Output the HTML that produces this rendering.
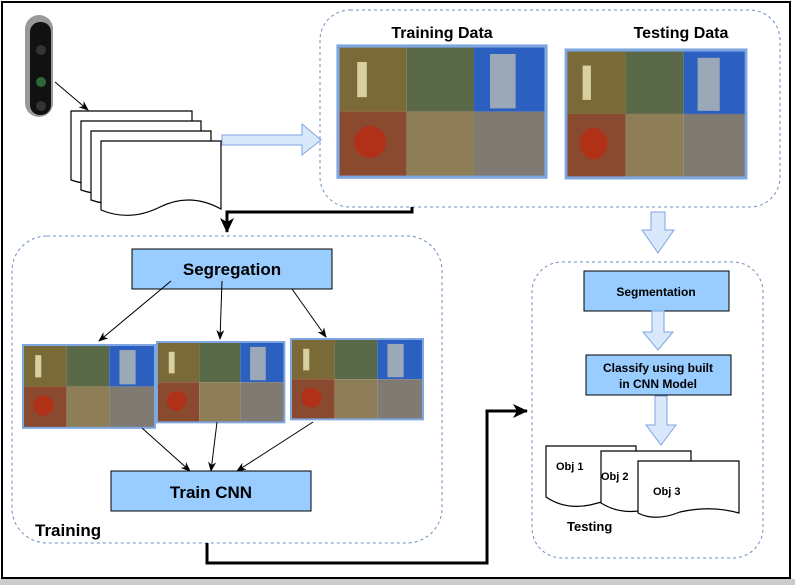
<!DOCTYPE html><html><head><style>body{margin:0;background:#fff}svg{display:block;font-family:"Liberation Sans",sans-serif;font-weight:bold}</style></head><body>
<svg width="795" height="585" viewBox="0 0 795 585" xmlns="http://www.w3.org/2000/svg">
<defs>
<marker id="a" markerWidth="10" markerHeight="10" refX="9" refY="5" orient="auto" markerUnits="userSpaceOnUse"><path d="M0,1 L10,5 L0,9 L3,5z" fill="#000"/></marker>
<marker id="b" markerWidth="16" markerHeight="16" refX="14" refY="8" orient="auto" markerUnits="userSpaceOnUse"><path d="M0,1 L15,8 L0,15 L4,8z" fill="#000"/></marker>
<g id="g">
<rect x="0" y="0" width="43" height="41" fill="#7a6a38"/><rect x="43" y="0" width="42" height="41" fill="#5a6a48"/><rect x="85" y="0" width="45" height="41" fill="#2b5fc0"/>
<rect x="0" y="41" width="43" height="41" fill="#8a4a30"/><rect x="43" y="41" width="42" height="41" fill="#8e7e58"/><rect x="85" y="41" width="45" height="41" fill="#7f7a72"/>
<rect x="12" y="10" width="6" height="22" fill="#d8d0a0"/><rect x="95" y="5" width="16" height="34" fill="#9aa8b8"/><circle cx="20" cy="60" r="10" fill="#b03018"/><rect x="0" y="0" width="130" height="82" fill="none" stroke="#7ea6e0" stroke-width="2"/>
</g>
</defs>
<rect x="2" y="2" width="788" height="576" fill="#fff" stroke="#000" stroke-width="2"/>
<rect x="0" y="579" width="795" height="6" fill="#ccc"/>
<!-- camera -->
<rect x="25" y="15" width="28" height="102" rx="14" fill="#999"/><rect x="30" y="22" width="21" height="93" rx="10" fill="#111"/>
<circle cx="41" cy="50" r="5" fill="#333"/><circle cx="41" cy="82" r="5" fill="#2a6a3a"/><circle cx="41" cy="106" r="5" fill="#333"/>
<line x1="55" y1="82" x2="88" y2="110" stroke="#000" marker-end="url(#a)"/>
<!-- docs -->
<g fill="#fff" stroke="#000" stroke-width="1.2">
<path d="M71,111 H192 V170 Q160,160 130,175 Q100,190 71,180Z"/>
<path d="M81,121 H201 V180 Q170,170 140,185 Q110,200 81,190Z"/>
<path d="M91,131 H211 V190 Q180,180 150,195 Q120,210 91,200Z"/>
<path d="M101,141 H221 V209 Q190,192 160,207 Q130,222 101,210Z"/>
</g>
<path d="M222,135 H302 V124 L321,140 L302,155 V145 H222Z" fill="#dae8fc" stroke="#7ea6e0"/>
<!-- top container -->
<rect x="320" y="10" width="460" height="197" rx="30" fill="none" stroke="#6c8ebf" stroke-dasharray="3,3"/>
<text x="442" y="38" font-size="16" text-anchor="middle">Training Data</text>
<text x="681" y="38" font-size="16" text-anchor="middle">Testing Data</text>
<g transform="translate(338,46) scale(1.6,1.6)"><use href="#g"/></g>
<g transform="translate(566,50) scale(1.385,1.56)"><use href="#g"/></g>
<path d="M412,207 V212 H227 V232" fill="none" stroke="#000" stroke-width="3" marker-end="url(#b)"/>
<path d="M651,212 H665 V230 H674 L658,253 L642,230 H651Z" fill="#dae8fc" stroke="#7ea6e0"/>
<!-- training container -->
<rect x="12" y="236" width="430" height="307" rx="35" fill="none" stroke="#6c8ebf" stroke-dasharray="3,3"/>
<rect x="132" y="249" width="200" height="40" fill="#99ccff" stroke="#000"/>
<text x="232" y="275" font-size="17" text-anchor="middle">Segregation</text>
<g transform="translate(23,345) scale(1.015,1.01)"><use href="#g"/></g>
<g transform="translate(157,342) scale(0.98,0.98)"><use href="#g"/></g>
<g transform="translate(291,339) scale(1.015,0.98)"><use href="#g"/></g>
<line x1="171" y1="281" x2="99" y2="341" stroke="#000" marker-end="url(#a)"/>
<line x1="222" y1="281" x2="220" y2="339" stroke="#000" marker-end="url(#a)"/>
<line x1="292" y1="289" x2="326" y2="337" stroke="#000" marker-end="url(#a)"/>
<line x1="142" y1="428" x2="190" y2="471" stroke="#000" marker-end="url(#a)"/>
<line x1="217" y1="422" x2="211" y2="471" stroke="#000" marker-end="url(#a)"/>
<line x1="313" y1="422" x2="237" y2="471" stroke="#000" marker-end="url(#a)"/>
<rect x="111" y="471" width="200" height="40" fill="#99ccff" stroke="#000"/>
<text x="211" y="498" font-size="17" text-anchor="middle">Train CNN</text>
<text x="35" y="536" font-size="17">Training</text>
<path d="M207,543 V563 H487 V411 H527" fill="none" stroke="#000" stroke-width="3" marker-end="url(#b)"/>
<!-- testing container -->
<rect x="532" y="262" width="231" height="296" rx="30" fill="none" stroke="#6c8ebf" stroke-dasharray="3,3"/>
<rect x="584" y="271" width="145" height="40" fill="#99ccff" stroke="#000"/>
<text x="656" y="296" font-size="12" text-anchor="middle">Segmentation</text>
<path d="M652,311 H664 V332 H673 L658,350 L643,332 H652Z" fill="#dae8fc" stroke="#7ea6e0"/>
<rect x="586" y="355" width="145" height="40" fill="#99ccff" stroke="#000"/>
<text x="658" y="372" font-size="12" text-anchor="middle">Classify using built</text>
<text x="658" y="388" font-size="12" text-anchor="middle">in CNN Model</text>
<path d="M655,396 H667 V425 H676 L661,445 L646,425 H655Z" fill="#dae8fc" stroke="#7ea6e0"/>
<g fill="#fff" stroke="#000" stroke-width="1.2">
<path d="M546,446 H636 V493 Q610,500 590,505 Q565,510 546,497Z"/>
<path d="M601,451 H691 V505 Q665,500 645,510 Q620,515 601,503Z"/>
<path d="M638,461 H739 V513 Q710,505 680,512 Q655,522 638,513Z"/>
</g>
<text x="556" y="470" font-size="11">Obj 1</text>
<text x="601" y="480" font-size="11">Obj 2</text>
<text x="653" y="495" font-size="11">Obj 3</text>
<text x="567" y="531" font-size="13">Testing</text>
</svg>
</body></html>
